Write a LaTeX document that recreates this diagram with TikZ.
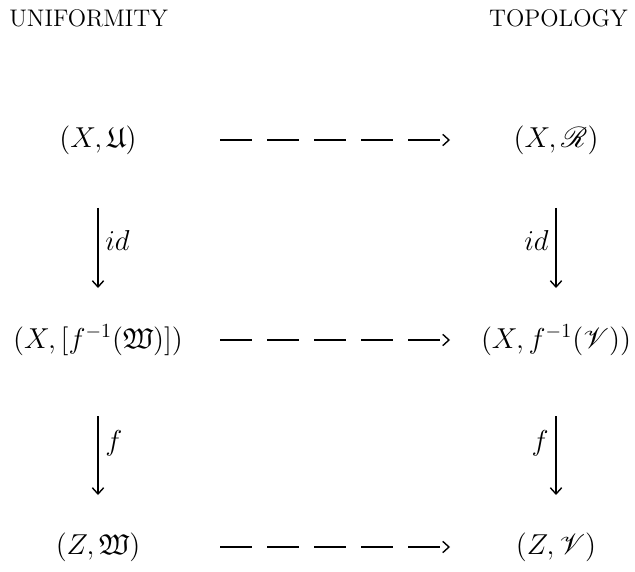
\documentclass[tikz,border=0pt]{standalone}
\usepackage{amsmath,amssymb}
\usepackage{mathrsfs}
\usetikzlibrary{arrows.meta}

\begin{document}
\begin{tikzpicture}[every node/.style={font=\Large}, >={Straight Barb[length=1.1mm,width=2mm]}, x=0.5pt, y=-0.5pt, line width=0.7pt,
	dasharrow/.style={->, dash pattern=on 16pt off 7.5pt, shorten <=61pt, shorten >=53pt},
	downarrow/.style={->, shorten <=34pt, shorten >=26pt}]
	\useasboundingbox (0,0) rectangle (635,571);
	\node[anchor=west, font=\large] (unif) at (2,18) {UNIFORMITY};
	\node[anchor=east, font=\large] (topo) at (635,18) {TOPOLOGY};
	% left column
	\node (xu) at (98,140) {$(X,\mathfrak{U})$};
	\node (xfw) at (98,340) {$(X,[f^{-1}(\mathfrak{W})])$};
	\node (zw) at (98,547) {$(Z,\mathfrak{W})$};
	% right column
	\node (xr) at (556,140) {$(X,\mathscr{R})$};
	\node (xfv) at (556,340) {$(X,f^{-1}(\mathscr{V}))$};
	\node (zv) at (556,547) {$(Z,\mathscr{V})$};
	\foreach \a/\b in {xu/xr,xfw/xfv,zw/zv} {\draw[dasharrow] (\a.center) -- (\b.center);}
	\draw[downarrow] (xu.center) -- (xfw.center) node[midway, right] {$id$};
	\draw[downarrow] (xr.center) -- (xfv.center) node[midway, left] {$id$};
	\draw[downarrow, shorten <=38pt] (xfw.center) -- (zw.center) node[midway, right] {$f$};
	\draw[downarrow, shorten <=38pt] (xfv.center) -- (zv.center) node[midway, left] {$f$};
\end{tikzpicture}
\end{document}
